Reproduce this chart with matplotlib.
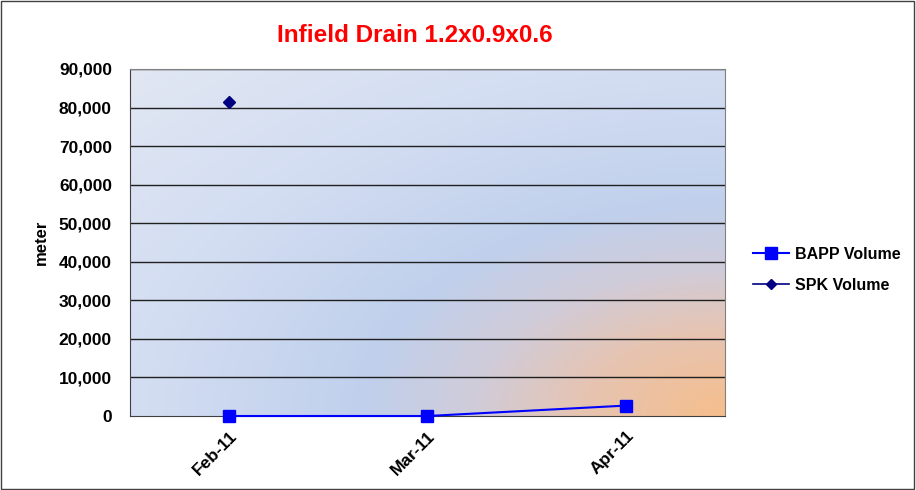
import numpy as np
import matplotlib.pyplot as plt
from matplotlib.colors import LinearSegmentedColormap
from matplotlib.lines import Line2D
from matplotlib.patches import Rectangle

plt.rcParams['font.family'] = ['Liberation Sans', 'DejaVu Sans']

# data
months = ['Feb-11', 'Mar-11', 'Apr-11']
bapp_volume = [0, 0, 2700]
spk_volume = [81500, np.nan, np.nan]
y_ticks = [0, 10000, 20000, 30000, 40000, 50000, 60000, 70000, 80000, 90000]

fig = plt.figure(figsize=(9.16, 4.9), dpi=100)
ax = fig.add_axes([130 / 916, 1 - 416 / 490, 595 / 916, 347 / 490])

# radial fill of the plot area, centred on the lower right corner
gx, gy = np.meshgrid(np.linspace(0, 1, 400), np.linspace(0, 1, 300))
r = np.sqrt((1 - gx) ** 2 + gy ** 2)
stops = [(0.0, (246, 190, 140)), (0.17, (230, 196, 178)), (0.3, (208, 204, 218)),
         (0.43, (192, 208, 236)), (0.71, (212, 222, 242)), (1.0, (225, 231, 243))]
cmap = LinearSegmentedColormap.from_list('bg', [(p, np.array(c) / 255) for p, c in stops])
ax.imshow(r / np.sqrt(2), cmap=cmap, vmin=0, vmax=1, extent=(0, 1, 0, 1),
          origin='lower', aspect='auto', transform=ax.transAxes, zorder=0)

x = np.arange(len(months))
ax.plot(x, bapp_volume, color='#0000FF', lw=1.5, marker='s', ms=8.5, zorder=3,
        clip_on=False, label='BAPP Volume')
ax.plot(x, spk_volume, color='#000080', lw=1.2, marker='D', ms=6, zorder=3,
        clip_on=False, label='SPK Volume')

ax.set_xlim(-0.5, 2.5)
ax.set_ylim(0, 90000)
ax.set_yticks(y_ticks)
ax.set_yticklabels(['{:,}'.format(v) for v in y_ticks], fontsize=12.5, fontweight='bold')
ax.set_xticks(x)
ax.set_xticklabels(months, fontsize=12.5, fontweight='bold', rotation=45,
                   ha='right', va='top', rotation_mode='anchor')
ax.tick_params(axis='x', length=0, pad=9)
ax.tick_params(axis='y', length=0, pad=13)
for v in y_ticks[1:]:
    ax.axhline(v, color='#202020', lw=1, zorder=1)
for side in ['top', 'right']:
    ax.spines[side].set_color('#808080')
ax.spines['left'].set_color('#404040')
ax.spines['bottom'].set_color('#404040')

ax.set_ylabel('meter', fontsize=12, fontweight='bold', labelpad=7)
fig.text(415 / 916, 1 - 35 / 490, 'Infield Drain 1.2x0.9x0.6', color='#FF0000',
         fontsize=17.5, fontweight='bold', ha='center', va='center')

handles = [Line2D([], [], color='#0000FF', lw=1.5, marker='s', ms=8),
           Line2D([], [], color='#000080', lw=1.2, marker='D', ms=5)]
fig.legend(handles, ['BAPP Volume', 'SPK Volume'], loc='center left',
           bbox_to_anchor=(739 / 916, 1 - 270 / 490), frameon=False,
           prop={'size': 11.5, 'weight': 'bold'}, handlelength=2.2,
           handletextpad=0.4, labelspacing=1.0)

fig.patches.append(Rectangle((0.001, 0.002), 0.997, 0.996, transform=fig.transFigure,
                             fill=False, edgecolor='#404040', lw=1))

fig.savefig('out.png', dpi=100)
